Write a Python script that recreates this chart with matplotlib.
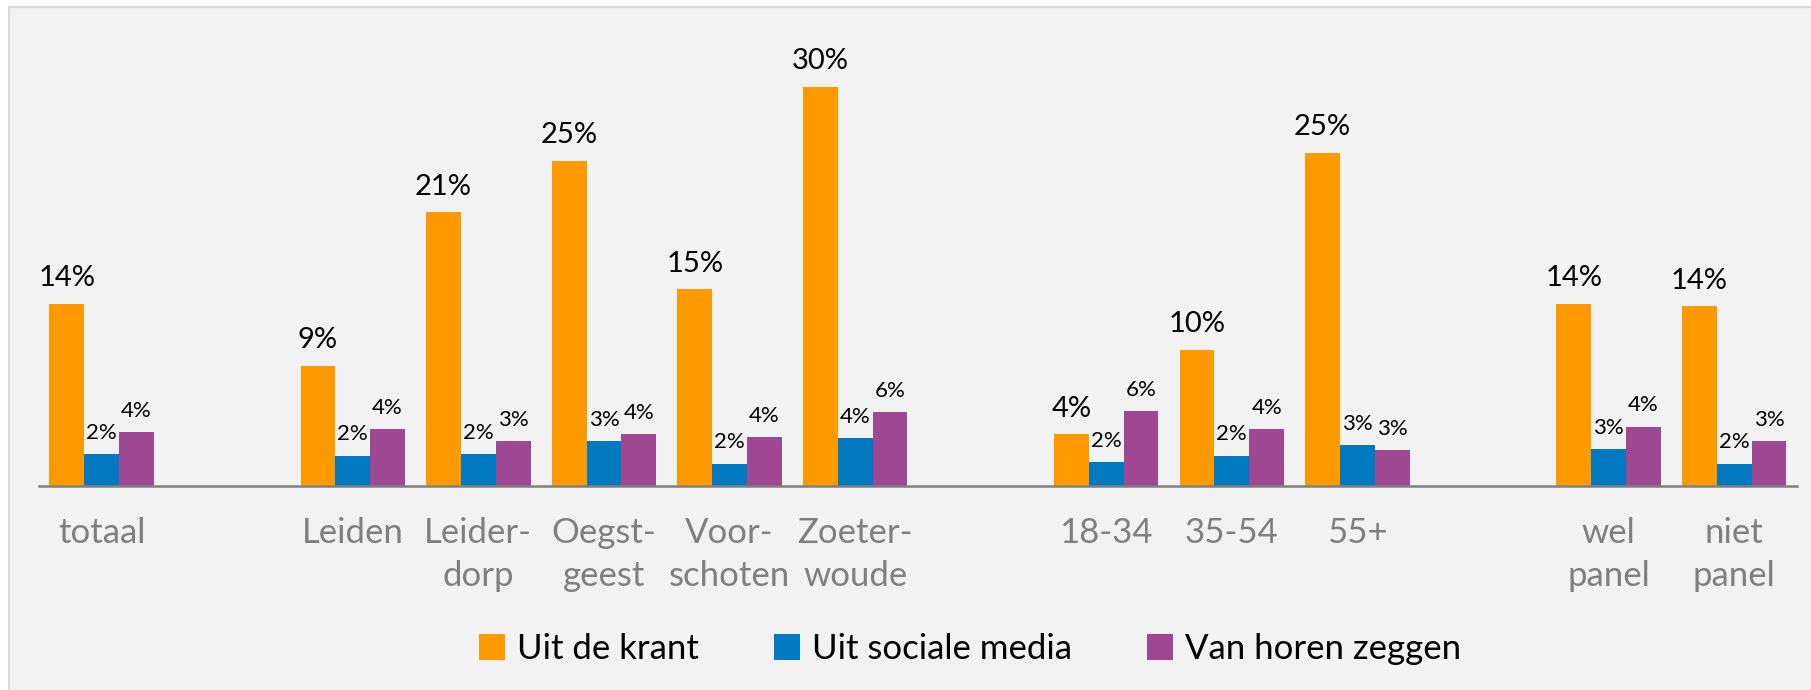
import matplotlib.pyplot as plt
import matplotlib.patches as mpatches
import numpy as np

plt.rcParams['font.family'] = ['Lato', 'DejaVu Sans']

# categories, split in groups (an empty slot sits between groups)
groups = [['totaal'],
          ['Leiden', 'Leider-\ndorp', 'Oegst-\ngeest', 'Voor-\nschoten', 'Zoeter-\nwoude'],
          ['18-34', '35-54', '55+'],
          ['wel\npanel', 'niet\npanel']]

series = ['Uit de krant', 'Uit sociale media', 'Van horen zeggen']
krant = [13.8, 9.1, 20.7, 24.6, 14.9, 30.2, 3.9, 10.3, 25.2, 13.8, 13.6]
sociaal = [2.4, 2.3, 2.4, 3.4, 1.7, 3.6, 1.8, 2.3, 3.1, 2.8, 1.7]
horen = [4.1, 4.3, 3.4, 3.9, 3.7, 5.6, 5.7, 4.3, 2.7, 4.5, 3.4]

colors = ['#FF9900', '#0079C1', '#9E4792']

# x slots with a blank slot between groups
pos = []
labels = []
slot = 0
for g in groups:
    for name in g:
        pos.append(slot)
        labels.append(name)
        slot += 1
    slot += 1
pos = np.array(pos)

fig = plt.figure(figsize=(18.11, 6.90), dpi=100, facecolor='white')
# grey chart area with thin border
fig.patches.append(mpatches.Rectangle((8.5 / 1811, -0.1), 1.2, 1 - 6.5 / 690 + 0.1,
                                      transform=fig.transFigure, facecolor='#F2F2F2',
                                      edgecolor='#D9D9D9', linewidth=1.5, zorder=-1))

ax = fig.add_axes([38.8 / 1811, 1 - 486 / 690, (1797 - 38.8) / 1811, (486 - 63) / 690])
ax.set_facecolor('none')

w = 0.277
data = [krant, sociaal, horen]
for i, (vals, name, c) in enumerate(zip(data, series, colors)):
    bars = ax.bar(pos + (i - 1) * w, vals, w, color=c, label=name, zorder=2)
    if i == 0:
        ax.bar_label(bars, labels=['%.0f%%' % v for v in vals], padding=9, fontsize=21)
    else:
        ax.bar_label(bars, labels=['%.0f%%' % v for v in vals], padding=8, fontsize=16)

ax.set_xlim(pos[0] - 0.5, pos[-1] + 0.5)
ax.set_ylim(0, 32)
ax.set_xticks(pos)
ax.set_xticklabels(labels, fontsize=25, color='#7F7F7F', linespacing=1.45, va='top')
ax.tick_params(axis='x', length=0, pad=22)
ax.set_yticks([])
for s in ['top', 'right', 'left']:
    ax.spines[s].set_visible(False)
ax.spines['bottom'].set_color('#808080')
ax.spines['bottom'].set_linewidth(1.8)

fig.legend(loc='center', bbox_to_anchor=(970 / 1811, 1 - 649 / 690), ncol=3, frameon=False,
           fontsize=25, handlelength=0.75, handleheight=0.75, handletextpad=0.35,
           columnspacing=2.15)

fig.savefig('out.png', dpi=100, facecolor=fig.get_facecolor())
